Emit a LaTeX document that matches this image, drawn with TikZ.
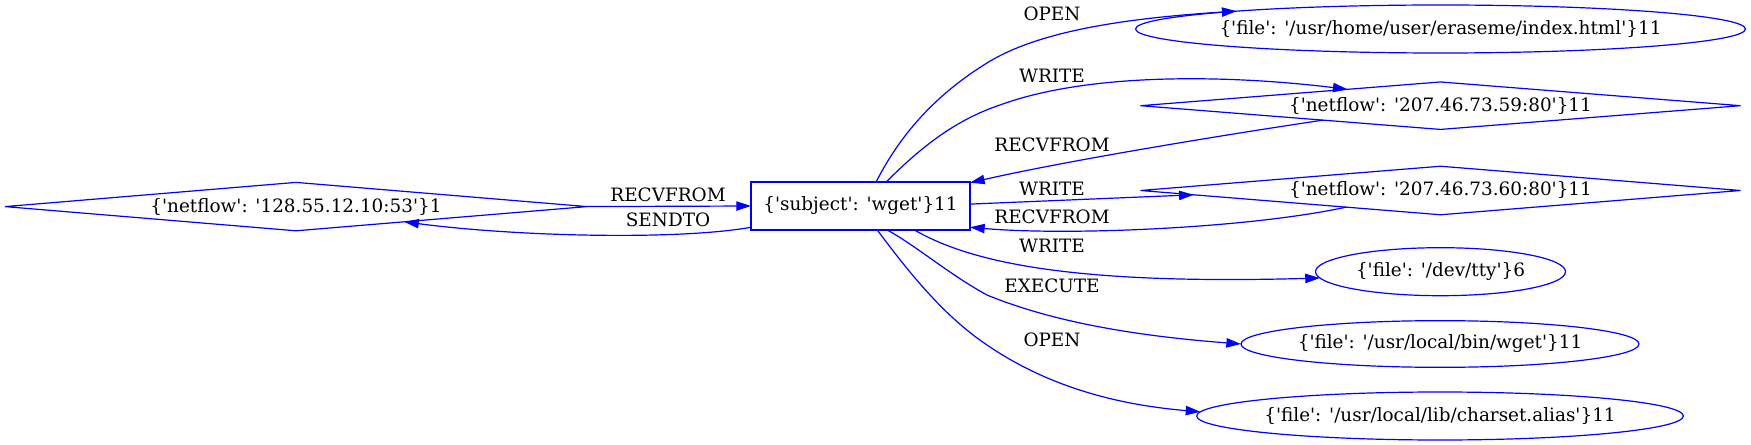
\documentclass[tikz,border=0pt]{standalone}
\usepackage{fontspec}
\setmainfont{DejaVu Serif}[Ligatures=TeXOff]
\usetikzlibrary{shapes.geometric,arrows.meta}
\begin{document}
\begin{tikzpicture}[x=0.75pt,y=-0.75pt,
  every node/.style={font=\fontsize{13.8}{16}\selectfont},
  gnode/.style={draw=blue, line width=0.9pt, inner sep=0pt, outer sep=0pt},
  dnode/.style={gnode, diamond, aspect=12},
  enode/.style={gnode, ellipse},
  bnode/.style={gnode, rectangle},
  edge/.style={draw=blue, line width=0.9pt, -{Triangle[length=11pt,width=7pt]}},
  lbl/.style={inner sep=0pt}]
\useasboundingbox (0,0) rectangle (1751,445);
% nodes
\node[dnode, minimum width=436.5pt, minimum height=36.3pt] (n0) at (296,206.6) {\makebox[0pt]{\{'netflow': '128.55.12.10:53'\}1}};
\node[bnode, minimum width=164.25pt, minimum height=36pt] (b) at (860.5,206) {\{'subject': 'wget'\}11};
\node[enode, minimum width=457.5pt, minimum height=36pt] (e1) at (1440.5,29) {\makebox[0pt]{\{'file': '/usr/home/user/eraseme/index.html'\}11}};
\node[dnode, minimum width=450pt, minimum height=35.6pt] (d2) at (1440.5,105.7) {\makebox[0pt]{\{'netflow': '207.46.73.59:80'\}11}};
\node[dnode, minimum width=450pt, minimum height=36.4pt] (d3) at (1440.5,190.5) {\makebox[0pt]{\{'netflow': '207.46.73.60:80'\}11}};
\node[enode, minimum width=187.5pt, minimum height=36pt] (tty) at (1440.5,271.7) {\makebox[0pt]{\{'file': '/dev/tty'\}6}};
\node[enode, minimum width=298.5pt, minimum height=35pt] (wg) at (1440,344) {\makebox[0pt]{\{'file': '/usr/local/bin/wget'\}11}};
\node[enode, minimum width=365pt, minimum height=36pt] (cs) at (1440,416) {\makebox[0pt]{\{'file': '/usr/local/lib/charset.alias'\}11}};
% edges
\draw[edge] (n0.east) -- (b.west);
\draw[edge] (b.191.9) .. controls (680,240) and (520,237) .. (n0.-8.74);
\draw[edge] (b.57.1) .. controls (900,135) and (935,95) .. (987,63) .. controls (1040,30) and (1130,18) .. (e1.175.9);
\draw[edge] (b.43.3) .. controls (920,148) and (955,120) .. (1000,105) .. controls (1090,72) and (1230,75) .. (d2.170.47);
\draw[edge] (d2.187.73) .. controls (1230,134) and (1070,160) .. (b.12.8);
\draw[edge] (b.1.7) -- (d3.181.6);
\draw[edge] (d3.190.19) .. controls (1250,228) and (1070,236) .. (b.-11.5);
\draw[edge] (b.-24.6) .. controls (970,262) and (1070,285) .. (tty.183.41);
\draw[edge] (b.-42.2) .. controls (915,245) and (950,275) .. (987,295) .. controls (1060,325) and (1150,337) .. (wg.west);
\draw[edge] (b.-55.5) .. controls (918,285) and (950,320) .. (987,345) .. controls (1050,388) and (1120,405) .. (cs.179.5);
% labels
\node[lbl] (l1) at (668,195) {RECVFROM};
\node[lbl] (l2) at (668,220) {SENDTO};
\node[lbl] (l3) at (1052,14) {OPEN};
\node[lbl] (l4) at (1052,76) {WRITE};
\node[lbl] (l5) at (1052,145) {RECVFROM};
\node[lbl] (l6) at (1052,189) {WRITE};
\node[lbl] (l7) at (1052,217) {RECVFROM};
\node[lbl] (l8) at (1052,246) {WRITE};
\node[lbl] (l9) at (1052,286) {EXECUTE};
\node[lbl] (l10) at (1052,340) {OPEN};
\end{tikzpicture}
\end{document}
